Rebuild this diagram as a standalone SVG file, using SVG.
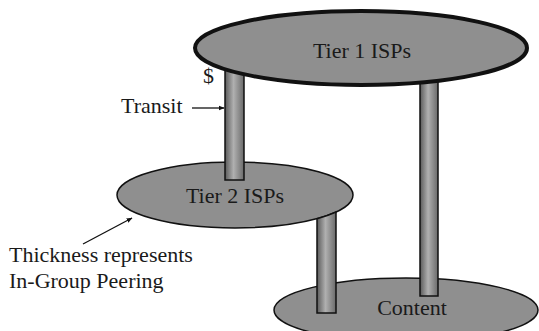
<svg xmlns="http://www.w3.org/2000/svg" width="539" height="331" viewBox="0 0 539 331">
<style>
text{font-family:"Liberation Serif","Times New Roman",serif;font-size:22px;fill:#1a1a1a}
.c{text-anchor:middle}
.ell{fill:#8f8f8f;stroke:#111}
.pil{fill:url(#pg);stroke:#111;stroke-width:1.5}
.ann{stroke:#111;stroke-width:1.3;fill:none}
</style>
<defs>
<linearGradient id="pg" x1="0" y1="0" x2="1" y2="0">
<stop offset="0" stop-color="#5a5a5a"/>
<stop offset="0.45" stop-color="#b0b0b0"/>
<stop offset="1" stop-color="#6a6a6a"/>
</linearGradient>
<marker id="ah" viewBox="0 0 10 10" refX="9" refY="5" markerWidth="6" markerHeight="6" orient="auto" markerUnits="userSpaceOnUse">
<path d="M0,1 L10,5 L0,9 Z" fill="#111"/>
</marker>
</defs>
<rect width="539" height="331" fill="#fff"/>
<g id="content">
<ellipse class="ell" cx="406" cy="310" rx="132" ry="32" stroke-width="1.5"/>
<text class="c" x="412" y="315">Content</text>
</g>
<g id="tier2">
<ellipse class="ell" cx="235" cy="195" rx="118" ry="33" stroke-width="1.5"/>
<text class="c" x="235" y="203">Tier 2 ISPs</text>
</g>
<g id="connectors">
<rect class="pil" x="225" y="60" width="19" height="120"/>
<rect class="pil" x="420" y="60" width="18" height="236"/>
<path class="pil" d="M317,218.7 L317,313 L336,313 L336,212 A118 33 0 0 1 317,218.7 Z"/>
</g>
<g id="tier1">
<ellipse class="ell" cx="361" cy="48" rx="166" ry="37" stroke-width="4"/>
<text class="c" x="362" y="58">Tier 1 ISPs</text>
</g>
<g id="annotations">
<text x="203" y="83" font-size="20">$</text>
<text x="121" y="113">Transit</text>
<line class="ann" x1="192" y1="108" x2="224" y2="108" marker-end="url(#ah)"/>
<line class="ann" x1="83" y1="244" x2="132" y2="218" marker-end="url(#ah)"/>
<text x="9" y="262">Thickness represents</text>
<text x="9" y="288">In-Group Peering</text>
</g>
</svg>
